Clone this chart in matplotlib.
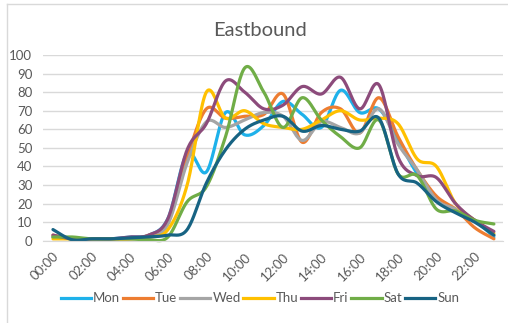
import numpy as np
import matplotlib.pyplot as plt
from matplotlib.lines import Line2D

# hourly counts, eastbound direction
hours = ['%02d:00' % h for h in range(24)]
mon = [2, 1, 1, 1, 2, 3, 12, 47, 37, 69, 57, 62, 75, 68, 61, 81, 69, 71, 54, 36, 22, 16, 11, 2]
tue = [3, 1, 1, 1, 1, 3, 10, 45, 71, 66, 67, 68, 79, 53, 69, 71, 58, 77, 56, 38, 24, 17, 7, 1]
wed = [2, 1, 1, 1, 1, 2, 9, 42, 64, 61, 65, 69, 67, 54, 64, 61, 58, 71, 52, 38, 22, 17, 11, 3]
thu = [1, 1, 1, 1, 1, 2, 6, 30, 80, 66, 70, 63, 61, 60, 65, 70, 65, 66, 63, 44, 40, 20, 11, 4]
fri = [3, 1, 1, 1, 2, 3, 12, 49, 63, 86, 80, 71, 73, 83, 79, 88, 71, 84, 45, 35, 34, 20, 11, 5]
sat = [2, 2, 1, 1, 1, 0.5, 2, 21, 29, 56, 93, 80, 61, 77, 65, 56, 50, 65, 36, 35, 17, 16, 11, 9]
sun = [6, 0.5, 1, 1, 1.5, 2, 3, 6, 31, 49, 60, 65, 67, 59, 62, 60, 59, 66, 36, 31, 21, 15, 10, 3]

days = ['Mon', 'Tue', 'Wed', 'Thu', 'Fri', 'Sat', 'Sun']
series = [mon, tue, wed, thu, fri, sat, sun]
colors = ['#1EB1EA', '#ED7D31', '#A5A5A5', '#FFC000', '#8C4B7B', '#70AD47', '#176383']


def smooth(y, n=20):
    # Catmull-Rom style curve through every point (like Excel "smoothed line")
    y = np.asarray(y, dtype=float)
    x = np.arange(len(y), dtype=float)
    xp = np.concatenate([[x[0]], x, [x[-1]]])
    yp = np.concatenate([[y[0]], y, [y[-1]]])
    xs, ys = [], []
    t = np.linspace(0, 1, n, endpoint=False)
    for i in range(len(y) - 1):
        p0, p1, p2, p3 = yp[i], yp[i + 1], yp[i + 2], yp[i + 3]
        q0, q1, q2, q3 = xp[i], xp[i + 1], xp[i + 2], xp[i + 3]
        c1y, c2y = p1 + (p2 - p0) / 6, p2 - (p3 - p1) / 6
        c1x, c2x = q1 + (q2 - q0) / 6, q2 - (q3 - q1) / 6
        b0, b1, b2, b3 = (1 - t) ** 3, 3 * t * (1 - t) ** 2, 3 * t ** 2 * (1 - t), t ** 3
        xs.append(b0 * q1 + b1 * c1x + b2 * c2x + b3 * q2)
        ys.append(b0 * p1 + b1 * c1y + b2 * c2y + b3 * p2)
    xs.append([x[-1]])
    ys.append([y[-1]])
    return np.concatenate(xs), np.concatenate(ys)


plt.rcParams['font.family'] = ['Lato', 'DejaVu Sans']
txt = '#595959'
grid = '#D9D9D9'

fig = plt.figure(figsize=(5.08, 3.23), dpi=100)
ax = fig.add_axes([0.0854, 0.2548, 0.9057, 0.5749])

for d, vals, c in zip(days, series, colors):
    sx, sy = smooth(vals)
    ax.plot(sx, sy, color=c, lw=2.3, label=d, solid_capstyle='round', clip_on=False)

ax.set_xlim(-0.5, 23.5)
ax.set_ylim(0, 100)
ax.set_yticks(range(0, 101, 10))
ax.set_xticks(range(0, 24, 2))
ax.set_xticklabels(hours[::2], rotation=45, ha='right', rotation_mode='anchor')
ax.tick_params(length=0, labelsize=9.5, colors=txt)
ax.tick_params(axis='x', pad=7)
ax.tick_params(axis='y', pad=8)
ax.grid(axis='y', color=grid, lw=1)
ax.set_axisbelow(True)
for s in ['left', 'right', 'top']:
    ax.spines[s].set_visible(False)
ax.spines['bottom'].set_color(grid)

fig.text(0.512, 0.905, 'Eastbound', ha='center', va='center', fontsize=14.5, color=txt)

handles = [Line2D([], [], color=c, lw=2.3) for c in colors]
leg = fig.legend(handles, days, loc='center', bbox_to_anchor=(0.512, 0.077), ncol=7,
                 frameon=False, fontsize=9.5, handlelength=2.3, handletextpad=0.15,
                 columnspacing=0.2, labelcolor=txt)

# chart area border (left and top edges)
fig.add_artist(Line2D([7 / 508, 7 / 508], [0, 1 - 4 / 323], color=grid, lw=1))
fig.add_artist(Line2D([7 / 508, 1], [1 - 4 / 323, 1 - 4 / 323], color=grid, lw=1))

fig.savefig('out.png', dpi=100)
